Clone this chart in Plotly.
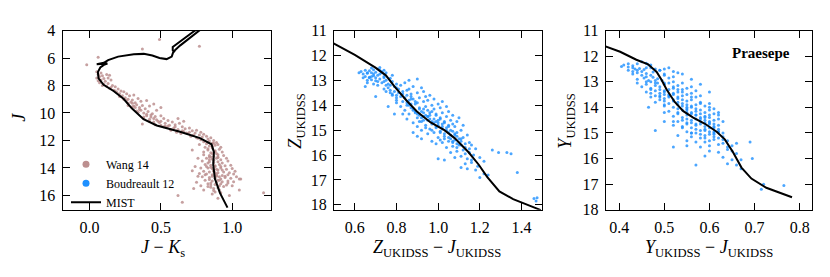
import plotly.graph_objs as go

# Praesepe: 2MASS (Wang 14) and UKIDSS (Boudreault 12) CMDs with the MIST isochrone

# --- panel 1: J vs J-Ks ---
wang_jk = [0.49, 0.77, 0.37, 0.06, -0.02,
           0.05, 0.06, 0.08, 0.07, 0.09, 0.05, 0.10, 0.12, 0.14, 0.08, 0.11, 0.06, 0.13, 0.10, 0.15,
           0.09, 0.12, 0.16, 0.14, 0.18, 0.20, 0.17, 0.22, 0.13, 0.07,
           0.19, 0.24, 0.21, 0.26, 0.23, 0.28, 0.25, 0.31, 0.27, 0.30, 0.34, 0.29, 0.32, 0.36, 0.40,
           0.33, 0.37, 0.31, 0.35, 0.42, 0.39, 0.45, 0.36, 0.41, 0.38, 0.47, 0.50, 0.44, 0.33, 0.27,
           0.40, 0.43, 0.46, 0.50, 0.42, 0.47, 0.52, 0.55, 0.45, 0.49, 0.53, 0.58, 0.50, 0.56, 0.60,
           0.63, 0.54, 0.59, 0.65, 0.57, 0.62, 0.67, 0.70, 0.61, 0.66, 0.72, 0.75, 0.69, 0.74, 0.78,
           0.37, 0.38, 0.62, 0.66,
           0.72, 0.77, 0.80, 0.75, 0.79, 0.82, 0.78, 0.83, 0.85, 0.80, 0.84, 0.87, 0.82, 0.86, 0.89,
           0.84, 0.88, 0.90, 0.81, 0.86, 0.92, 0.83, 0.88, 0.91, 0.85, 0.89, 0.93, 0.72, 0.80, 0.77,
           0.80, 0.84, 0.87, 0.90, 0.94, 0.82, 0.86, 0.89, 0.92, 0.96, 0.79, 0.84, 0.87, 0.90, 0.93,
           0.97, 0.81, 0.85, 0.88, 0.91, 0.95, 0.99, 0.78, 0.83, 0.86, 0.89, 0.92, 0.96, 1.00, 0.80,
           0.84, 0.87, 0.90, 0.94, 0.98, 1.02, 0.77, 0.82, 0.86, 0.89, 0.93, 0.97, 1.01, 0.74, 0.76,
           0.79, 0.84, 0.88, 0.91, 0.95, 0.99, 1.03, 1.06, 0.81, 0.86, 0.90, 0.93, 0.97, 1.01, 0.75,
           0.83, 0.88, 0.92, 0.96, 0.78, 0.85, 0.90, 0.94, 1.00, 1.05, 0.80, 0.87, 0.73, 0.76, 0.72,
           0.62, 0.65, 1.22, 1.05, 0.98, 0.92,
           0.83, 0.85, 0.87, 0.88, 0.90, 0.86, 0.84, 0.89, 0.91, 0.87, 0.85, 0.88, 0.92, 0.86, 0.90,
           0.83, 0.87, 0.89, 0.85, 0.91, 0.30, 0.35, 0.40, 0.45, 0.50, 0.55, 0.60, 0.65, 0.70, 0.26,
           0.32, 0.43, 0.48, 0.53, 0.68, 0.73,
           0.86, 0.88, 0.90, 0.84, 0.82, 0.87, 0.89, 0.91, 0.85, 0.83, 0.93, 0.95, 0.88, 0.86, 0.90,
           0.81, 0.84, 0.87, 0.92, 0.97, 0.15, 0.18, 0.21, 0.24, 0.27, 0.30, 0.34, 0.38, 0.42, 0.46,
           0.52, 0.57, 0.64, 0.71, 0.76]
wang_j = [4.65, 5.15, 5.35, 5.95, 6.50,
          7.00, 7.20, 7.10, 7.35, 7.30, 7.45, 7.50, 7.20, 7.25, 7.60, 7.70, 7.65, 7.85, 7.90, 7.60,
          8.00, 8.05, 8.00, 8.20, 8.10, 8.25, 8.35, 8.40, 7.45, 7.80,
          8.50, 8.45, 8.60, 8.60, 8.75, 8.75, 8.90, 8.70, 9.00, 9.05, 8.95, 9.20, 9.25, 9.15, 9.10,
          9.40, 9.45, 9.50, 9.60, 9.50, 9.70, 9.35, 9.80, 9.90, 10.00, 9.80, 9.60, 10.05, 9.85, 9.45,
          10.20, 10.30, 10.25, 10.20, 10.45, 10.50, 10.40, 10.55, 10.65, 10.70, 10.75, 10.65, 10.90, 10.90, 10.85,
          10.75, 11.05, 11.10, 11.00, 11.25, 11.20, 11.15, 11.10, 11.40, 11.35, 11.30, 11.25, 11.50, 11.45, 11.40,
          10.80, 10.40, 10.40, 10.60,
          11.65, 11.60, 11.55, 11.80, 11.75, 11.70, 11.95, 11.90, 11.80, 12.10, 12.05, 12.00, 12.25, 12.20, 12.15,
          12.40, 12.35, 12.30, 12.50, 12.55, 12.50, 12.70, 12.75, 12.65, 12.90, 12.95, 12.85, 12.70, 12.85, 12.30,
          13.05, 13.10, 13.15, 13.05, 13.10, 13.30, 13.35, 13.30, 13.40, 13.30, 13.50, 13.55, 13.60, 13.55, 13.65,
          13.50, 13.75, 13.80, 13.85, 13.75, 13.85, 13.80, 14.00, 14.00, 14.05, 14.10, 14.00, 14.10, 14.05, 14.25,
          14.30, 14.25, 14.35, 14.30, 14.35, 14.25, 14.40, 14.45, 14.50, 14.45, 14.55, 14.50, 14.45, 13.90, 13.30,
          14.65, 14.70, 14.75, 14.65, 14.70, 14.75, 14.65, 14.80, 14.90, 14.95, 14.90, 15.00, 14.95, 15.00, 15.05,
          15.15, 15.20, 15.15, 15.25, 15.30, 15.40, 15.45, 15.35, 15.30, 15.60, 15.60, 15.65, 15.50, 14.60, 14.20,
          16.00, 16.50, 15.80, 14.80, 16.00, 15.80,
          12.60, 13.20, 13.45, 13.90, 14.15, 14.60, 14.85, 15.05, 15.30, 15.50, 13.95, 14.35, 14.80, 12.95, 13.20,
          13.65, 14.20, 14.60, 15.25, 15.60, 9.30, 9.75, 10.10, 10.40, 10.60, 10.95, 11.00, 11.30, 11.40, 9.10,
          9.60, 10.15, 10.60, 10.95, 11.45, 11.60,
          12.45, 12.80, 13.25, 13.40, 13.90, 14.10, 14.55, 14.90, 15.10, 15.35, 14.15, 14.60, 15.75, 15.90, 16.20,
          14.50, 13.20, 12.20, 13.90, 15.10, 8.15, 8.40, 8.80, 9.00, 9.30, 9.55, 9.95, 10.30, 10.60, 10.85,
          11.00, 11.20, 11.50, 11.70, 11.85]

mist_jk = [0.967, 0.914, 0.879, 0.867, 0.872, 0.855, 0.774, 0.634, 0.471, 0.378, 0.296, 0.238, 0.168,
           0.098, 0.063, 0.058, 0.075, 0.10, 0.125, 0.05, 0.10, 0.13, 0.20, 0.31, 0.38, 0.44, 0.49, 0.54,
           0.576, 0.587, 0.634, 0.767, 0.80, 0.739, 0.599, 0.583, 0.583, 0.60]
mist_j = [16.89, 15.82, 14.79, 13.77, 12.85, 12.28, 11.83, 11.37, 10.91, 10.46, 9.66, 8.97, 8.40,
          7.95, 7.49, 7.03, 6.69, 6.50, 6.40, 6.45, 6.35, 6.15, 5.90, 5.72, 5.70, 5.82, 6.00, 6.08,
          5.90, 5.55, 5.10, 4.00, 3.75, 4.00, 5.05, 5.20, 5.44, 5.55]

# --- panel 2: Z vs Z-J ---
bz_zj = [0.63, 0.65, 0.67, 0.69, 0.71, 0.72, 0.64, 0.66, 0.68, 0.70, 0.73, 0.75, 0.65, 0.67, 0.69, 0.71,
         0.74, 0.66, 0.68, 0.70, 0.72, 0.75, 0.77, 0.69, 0.71, 0.73, 0.76, 0.78, 0.65, 0.70, 0.74, 0.79,
         0.75, 0.77, 0.80, 0.82, 0.84, 0.86, 0.90, 0.78, 0.81, 0.83, 0.86, 0.88, 0.92, 0.80, 0.82, 0.85,
         0.87, 0.90, 0.93, 0.76, 0.80, 0.83, 0.86, 0.88, 0.91, 0.94, 0.96, 0.82, 0.85, 0.87, 0.90, 0.93,
         0.95, 0.98, 0.84, 0.88, 0.91, 0.94, 0.97, 1.00, 1.02, 0.79,
         0.86, 0.89, 0.92, 0.95, 0.98, 1.01, 1.04, 0.85, 0.90, 0.93, 0.96, 0.99, 1.02, 1.05, 0.88, 0.92,
         0.95, 0.98, 1.01, 1.04, 1.07, 1.10, 0.90, 0.94, 0.97, 1.00, 1.03, 1.06, 1.09, 0.92, 0.96, 0.99,
         1.02, 1.05, 1.08, 1.12, 0.95, 0.98, 1.01, 1.04, 1.07, 1.11, 0.88, 1.14, 0.97,
         1.00, 1.03, 1.06, 1.09, 1.12, 0.99, 1.02, 1.05, 1.08, 1.11, 1.15, 1.04, 1.07, 1.10, 1.13, 1.16,
         1.06, 1.09, 1.12, 1.15, 1.18, 1.08, 1.11, 1.14, 1.17, 1.20, 1.13, 1.16, 1.19, 1.22, 1.14, 1.18,
         1.22, 1.24, 1.26, 1.29, 1.33, 1.35, 1.38, 1.20, 1.46, 1.475, 1.47, 1.00, 1.03,
         0.93, 0.96, 0.99, 1.02, 1.05, 1.08, 1.00, 0.97, 1.03, 1.06, 1.01, 1.09, 0.91, 0.94, 1.07, 0.87,
         0.84, 0.80, 0.77, 0.74, 0.72, 0.68, 0.62, 0.66, 0.83, 0.90, 0.92, 1.13, 1.16, 1.11,
         0.86, 0.88, 0.90, 0.92, 0.94, 0.96, 0.98, 1.00, 1.02, 1.04, 1.06, 1.08, 1.10, 0.89, 0.91,
         0.93, 0.95, 0.97, 0.99, 1.01, 1.03, 1.05, 1.07, 1.09, 1.11, 0.70, 0.72, 0.74, 0.76, 0.78,
         0.80, 0.68, 0.66, 0.64, 0.71, 0.73, 0.75, 0.77, 0.79, 0.81, 0.83, 0.85, 0.87, 0.89, 0.91,
         0.95, 0.97, 0.99, 1.01, 1.03, 1.05, 0.93, 0.89, 0.87, 0.85, 1.07, 1.09, 1.11, 1.13, 1.15,
         0.80, 0.78, 0.74, 0.69, 0.67]
bz_z = [12.65, 12.60, 12.62, 12.58, 12.55, 12.48, 12.75, 12.72, 12.70, 12.68, 12.66, 12.70, 12.85, 12.88, 12.82, 12.80,
        12.85, 13.00, 12.98, 13.02, 12.95, 13.00, 12.92, 13.15, 13.20, 13.10, 13.15, 13.05, 13.25, 13.65, 13.35, 13.25,
        13.45, 13.40, 13.30, 13.20, 13.10, 13.00, 12.95, 13.55, 13.50, 13.45, 13.35, 13.25, 13.30, 13.70, 13.65, 13.60,
        13.55, 13.50, 13.45, 14.05, 13.90, 13.85, 13.80, 13.75, 13.70, 13.65, 13.60, 14.05, 14.00, 13.95, 13.90, 13.85,
        13.80, 13.75, 14.20, 14.15, 14.10, 14.05, 14.00, 13.95, 13.85, 14.35,
        14.35, 14.30, 14.25, 14.20, 14.15, 14.10, 14.05, 14.55, 14.50, 14.45, 14.40, 14.35, 14.30, 14.25, 14.70, 14.65,
        14.60, 14.55, 14.50, 14.45, 14.40, 14.50, 14.85, 14.80, 14.75, 14.70, 14.65, 14.60, 14.65, 15.00, 14.95, 14.90,
        14.85, 14.80, 14.85, 14.80, 15.15, 15.10, 15.05, 15.00, 15.05, 15.00, 15.10, 15.20, 15.45,
        15.30, 15.25, 15.20, 15.25, 15.30, 15.55, 15.50, 15.45, 15.40, 15.45, 15.50, 15.70, 15.65, 15.60, 15.70, 15.60,
        15.90, 15.85, 15.80, 15.90, 15.75, 16.10, 16.05, 16.15, 16.00, 16.10, 16.35, 16.30, 16.45, 16.25, 16.55, 16.60,
        16.75, 16.80, 15.80, 15.90, 15.90, 15.95, 16.70, 16.90, 17.75, 17.72, 17.85, 16.15, 16.20,
        14.60, 14.30, 14.65, 14.95, 15.10, 15.15, 14.80, 15.00, 15.35, 15.35, 15.40, 15.55, 14.40, 14.90, 14.75, 14.10,
        13.70, 13.60, 13.20, 13.05, 12.75, 12.50, 12.70, 13.10, 14.35, 15.25, 15.35, 15.95, 16.20, 16.50,
        14.00, 14.20, 14.35, 14.50, 14.40, 14.55, 14.70, 14.60, 14.75, 14.90, 15.00, 15.20, 15.35, 13.95, 14.15,
        14.30, 14.45, 14.65, 14.85, 15.10, 15.15, 15.30, 15.50, 15.70, 15.60, 12.90, 12.60, 12.90, 13.30, 13.60,
        13.80, 12.85, 12.70, 12.90, 13.05, 12.70, 13.20, 13.50, 13.45, 13.35, 13.55, 13.90, 13.75, 14.25, 14.65,
        14.45, 14.25, 14.40, 14.55, 14.70, 14.85, 14.15, 13.85, 13.65, 13.40, 15.45, 15.10, 15.35, 15.55, 15.75,
        13.15, 12.80, 12.60, 12.75, 12.90]

mist_zj = [0.484, 0.60, 0.699, 0.749, 0.79, 0.848, 0.898, 0.964, 1.03, 1.079, 1.145, 1.195, 1.236,
           1.294, 1.36, 1.435, 1.493]
mist_z = [11.45, 11.98, 12.49, 12.80, 13.24, 13.81, 14.25, 14.69, 15.00, 15.32, 15.88, 16.39, 16.89,
          17.46, 17.77, 18.03, 18.21]

# --- panel 3: Y vs Y-J ---
by_yj = [0.405, 0.41, 0.42, 0.43, 0.44, 0.45, 0.46, 0.465, 0.42, 0.435, 0.445, 0.455, 0.47, 0.48, 0.43, 0.44,
         0.45, 0.46, 0.475, 0.49, 0.44, 0.455, 0.465, 0.475, 0.485, 0.50, 0.44, 0.46, 0.47, 0.485, 0.495, 0.51,
         0.49, 0.50, 0.52, 0.53,
         0.45, 0.47, 0.48, 0.49, 0.50, 0.51, 0.52, 0.46, 0.48, 0.49, 0.50, 0.51, 0.52, 0.53, 0.54, 0.47,
         0.49, 0.50, 0.51, 0.52, 0.53, 0.54, 0.55, 0.56, 0.48, 0.50, 0.51, 0.52, 0.53, 0.54, 0.55, 0.56,
         0.57, 0.465, 0.50, 0.52, 0.53, 0.54, 0.55, 0.56, 0.57, 0.58,
         0.51, 0.53, 0.54, 0.55, 0.56, 0.57, 0.58, 0.59, 0.60, 0.52, 0.54, 0.55, 0.56, 0.57, 0.58, 0.59,
         0.60, 0.61, 0.53, 0.55, 0.56, 0.57, 0.58, 0.59, 0.60, 0.61, 0.62, 0.54, 0.56, 0.57, 0.58, 0.59,
         0.60, 0.61, 0.62, 0.63, 0.55, 0.57, 0.58, 0.59, 0.60, 0.61, 0.62, 0.50, 0.48, 0.52,
         0.56, 0.58, 0.59, 0.60, 0.61, 0.62, 0.63, 0.57, 0.59, 0.60, 0.61, 0.62, 0.63, 0.64, 0.55, 0.52,
         0.58, 0.60, 0.62, 0.65, 0.66, 0.60, 0.62, 0.64, 0.66, 0.59, 0.63, 0.65, 0.67, 0.69, 0.695, 0.57,
         0.64, 0.66, 0.67, 0.72, 0.715, 0.765, 0.53, 0.55,
         0.47, 0.49, 0.51, 0.53, 0.55, 0.57, 0.58, 0.59, 0.60, 0.61, 0.56, 0.55, 0.54, 0.53, 0.60, 0.62,
         0.58, 0.50, 0.48, 0.46, 0.43, 0.42, 0.47, 0.50, 0.52, 0.51, 0.54, 0.56, 0.58, 0.60,
         0.49, 0.50, 0.51, 0.52, 0.53, 0.54, 0.55, 0.56, 0.57, 0.58, 0.59, 0.60, 0.61, 0.50, 0.52,
         0.54, 0.56, 0.58, 0.60, 0.62, 0.53, 0.55, 0.57, 0.59, 0.61, 0.63, 0.45, 0.46, 0.47, 0.48,
         0.43, 0.44, 0.50, 0.52, 0.54, 0.55, 0.57, 0.59, 0.61, 0.56,
         0.52, 0.53, 0.54, 0.55, 0.56, 0.57, 0.58, 0.59, 0.60, 0.61, 0.62, 0.50, 0.49, 0.48, 0.47,
         0.46, 0.63, 0.64, 0.65, 0.56]
by_y = [12.40, 12.35, 12.42, 12.38, 12.30, 12.22, 12.28, 12.35, 12.55, 12.50, 12.48, 12.52, 12.45, 12.50, 12.70, 12.65,
        12.75, 12.68, 12.62, 12.55, 12.90, 12.85, 12.95, 12.82, 12.88, 12.75, 13.05, 13.10, 13.00, 13.05, 12.95, 12.85,
        12.55, 12.50, 12.60, 12.65,
        13.20, 13.25, 13.15, 13.20, 13.10, 13.05, 13.00, 13.40, 13.35, 13.45, 13.35, 13.30, 13.25, 13.15, 13.05, 13.60,
        13.55, 13.65, 13.50, 13.45, 13.40, 13.30, 13.25, 13.20, 13.80, 13.75, 13.85, 13.70, 13.65, 13.55, 13.50, 13.45,
        13.35, 14.00, 13.95, 14.00, 13.90, 13.85, 13.75, 13.70, 13.60, 13.55,
        14.15, 14.20, 14.10, 14.05, 13.95, 13.90, 13.85, 13.95, 13.85, 14.35, 14.40, 14.30, 14.25, 14.15, 14.10, 14.20,
        14.10, 14.05, 14.55, 14.60, 14.50, 14.45, 14.40, 14.35, 14.30, 14.25, 14.20, 14.75, 14.80, 14.70, 14.65, 14.60,
        14.55, 14.50, 14.45, 14.55, 14.95, 15.00, 14.90, 14.85, 14.80, 14.75, 14.70, 14.55, 14.90, 14.70,
        15.15, 15.20, 15.10, 15.05, 15.00, 14.95, 15.00, 15.35, 15.35, 15.30, 15.25, 15.20, 15.25, 15.30, 15.50, 15.55,
        15.55, 15.50, 15.45, 15.50, 15.40, 15.70, 15.75, 15.65, 15.80, 15.90, 15.95, 16.05, 16.05, 15.35, 16.00, 16.25,
        16.20, 16.25, 16.40, 17.00, 17.20, 17.05, 15.10, 15.30,
        13.45, 13.70, 13.60, 13.80, 14.00, 14.30, 14.55, 14.75, 14.95, 15.15, 14.60, 14.20, 14.50, 14.05, 14.65, 14.85,
        15.05, 13.50, 13.05, 12.80, 12.60, 12.30, 12.35, 12.70, 12.80, 12.45, 12.70, 12.90, 13.10, 13.40,
        13.30, 13.40, 13.55, 13.75, 13.60, 13.95, 14.10, 14.20, 14.30, 14.45, 14.50, 14.60, 14.80, 13.05, 13.20,
        13.40, 13.60, 13.80, 14.00, 14.30, 14.25, 14.45, 14.65, 14.90, 15.05, 15.15, 12.60, 12.45, 12.75, 12.95,
        12.45, 12.55, 14.20, 14.55, 14.80, 14.65, 14.85, 15.20, 14.95, 15.00,
        13.50, 13.30, 13.70, 13.90, 14.00, 14.05, 14.25, 14.40, 14.40, 14.65, 14.95, 13.90, 13.60, 13.55, 13.30,
        13.00, 15.40, 15.55, 15.70, 15.00]

mist_yj = [0.368, 0.402, 0.438, 0.464, 0.483, 0.494, 0.505, 0.523, 0.542, 0.564, 0.590, 0.616, 0.634,
           0.652, 0.671, 0.693, 0.726, 0.763, 0.783]
mist_y = [11.61, 11.83, 12.14, 12.32, 12.62, 12.93, 13.30, 13.79, 14.15, 14.40, 14.64, 14.95, 15.25,
          15.74, 16.35, 16.78, 17.14, 17.39, 17.51]

FONT = 'Liberation Serif'
WANG_COL = 'rgba(188,143,143,0.85)'
BOUD_COL = 'rgba(30,144,255,0.8)'
W, H = 830, 277


def fx(px):
    return px / W


def fy(py):
    return 1 - py / H


def style_axis(rng, tickvals, fmt, domain):
    return dict(domain=domain, range=rng, tickvals=tickvals, tickformat=fmt,
                showline=True, linecolor='black', linewidth=1.2, mirror='ticks',
                ticks='inside', ticklen=7, tickwidth=1, tickcolor='black',
                showgrid=False, zeroline=False, ticklabelstandoff=3,
                tickfont=dict(family=FONT, size=16, color='black'))


ydom = [fy(215), fy(24)]

data = [
    go.Scatter(x=wang_jk, y=wang_j, mode='markers', xaxis='x', yaxis='y', showlegend=False,
               marker=dict(size=3, color=WANG_COL, line=dict(width=0))),
    go.Scatter(x=mist_jk, y=mist_j, mode='lines', xaxis='x', yaxis='y', showlegend=False,
               line=dict(color='black', width=2)),
    go.Scatter(x=bz_zj, y=bz_z, mode='markers', xaxis='x2', yaxis='y2', showlegend=False,
               marker=dict(size=3, color=BOUD_COL, line=dict(width=0))),
    go.Scatter(x=mist_zj, y=mist_z, mode='lines', xaxis='x2', yaxis='y2', showlegend=False,
               line=dict(color='black', width=2)),
    go.Scatter(x=by_yj, y=by_y, mode='markers', xaxis='x3', yaxis='y3', showlegend=False,
               marker=dict(size=3, color=BOUD_COL, line=dict(width=0))),
    go.Scatter(x=mist_yj, y=mist_y, mode='lines', xaxis='x3', yaxis='y3', showlegend=False,
               line=dict(color='black', width=2)),
    # legend entries only
    go.Scatter(x=[None], y=[None], mode='markers', name='Wang 14', xaxis='x', yaxis='y',
               marker=dict(size=7, color='rosybrown')),
    go.Scatter(x=[None], y=[None], mode='markers', name='Boudreault 12', xaxis='x', yaxis='y',
               marker=dict(size=7, color='dodgerblue')),
    go.Scatter(x=[None], y=[None], mode='lines', name='MIST', xaxis='x', yaxis='y',
               line=dict(color='black', width=2)),
]

layout = go.Layout(
    width=W, height=H,
    margin=dict(l=0, r=0, t=0, b=0),
    plot_bgcolor='white', paper_bgcolor='white',
    font=dict(family=FONT, color='black'),
    xaxis=style_axis([-0.19, 1.27], [0.0, 0.5, 1.0], '.1f', [fx(62.5), fx(270.7)]),
    yaxis=style_axis([17.05, 4], [4, 6, 8, 10, 12, 14, 16], 'd', ydom),
    xaxis2=style_axis([0.5, 1.5], [0.6, 0.8, 1.0, 1.2, 1.4], '.1f', [fx(334), fx(542.3)]),
    yaxis2=style_axis([18.2, 11], [11, 12, 13, 14, 15, 16, 17, 18], 'd', ydom),
    xaxis3=style_axis([0.37, 0.828], [0.4, 0.5, 0.6, 0.7, 0.8], '.1f', [fx(605.7), fx(812.3)]),
    yaxis3=style_axis([18, 11], [11, 12, 13, 14, 15, 16, 17, 18], 'd', ydom),
    legend=dict(x=fx(66), y=fy(151), xanchor='left', yanchor='top',
                bgcolor='rgba(0,0,0,0)', font=dict(family=FONT, size=12), tracegroupgap=0),
)
layout.xaxis2.anchor = 'y2'
layout.yaxis2.anchor = 'x2'
layout.xaxis3.anchor = 'y3'
layout.yaxis3.anchor = 'x3'

fig = go.Figure(data=data, layout=layout)

# axis titles as annotations so they sit where the original puts them
labels = [
    (163, 256, '<i>J</i> − <i>K</i><sub>s</sub>', 0),
    (437, 256, '<i>Z</i><sub>UKIDSS</sub> − <i>J</i><sub>UKIDSS</sub>', 0),
    (709, 256, '<i>Y</i><sub>UKIDSS</sub> − <i>J</i><sub>UKIDSS</sub>', 0),
    (19, 117, '<i>J</i>', -90),
    (297, 120, '<i>Z</i><sub>UKIDSS</sub>', -90),
    (567, 120, '<i>Y</i><sub>UKIDSS</sub>', -90),
]
for px, py, txt, ang in labels:
    fig.add_annotation(x=fx(px), y=fy(py), xref='paper', yref='paper', text=txt,
                       xanchor='center', yanchor='middle',
                       showarrow=False, textangle=ang, font=dict(family=FONT, size=18))

fig.add_annotation(x=fx(761), y=fy(48), xref='paper', yref='paper', text='<b>Praesepe</b>',
                   xanchor='center', yanchor='middle',
                   showarrow=False, font=dict(family=FONT, size=15))

# drop the default 8px body margin so the figure fills the window exactly
fig.write_html("out.html", config={'displayModeBar': False},
               post_script="document.body.style.margin='0px';")
